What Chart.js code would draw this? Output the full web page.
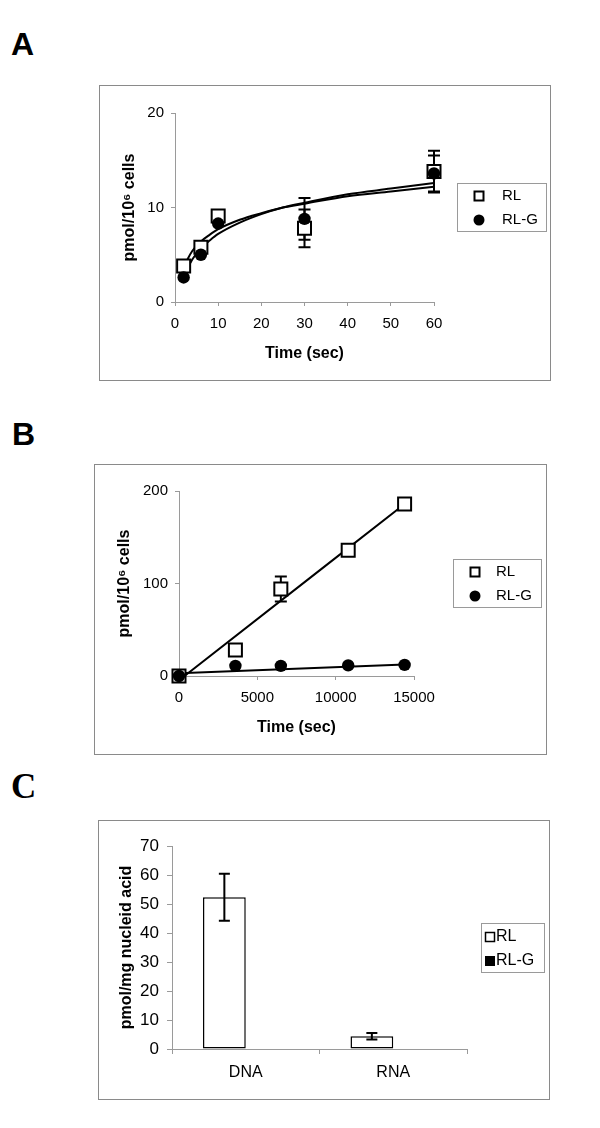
<!DOCTYPE html>
<html>
<head>
<meta charset="utf-8">
<script src="https://cdn.jsdelivr.net/npm/chart.js@4.4.0/dist/chart.umd.min.js"></script>
<style>
  body { margin: 0; background: #fff; width: 600px; height: 1128px; position: relative; }
  .tag { position: absolute; font-weight: bold; line-height: 1; color: #000; }
  .frame { position: absolute; border: 1px solid #8a8a8a; }
  canvas { display: block; }
</style>
</head>
<body>
<div class="tag" style="left:11px;top:28px;font:bold 32px 'Liberation Sans',Arial,sans-serif;line-height:1">A</div>
<div class="tag" style="left:12px;top:418px;font:bold 32px 'Liberation Sans',Arial,sans-serif;line-height:1">B</div>
<div class="tag" style="left:11px;top:769px;font:bold 35px 'Liberation Serif','Times New Roman',serif;line-height:1">C</div>

<div class="frame" style="left:99px;top:85px;"><canvas id="chartA" width="450" height="294"></canvas></div>
<div class="frame" style="left:94px;top:464px;"><canvas id="chartB" width="451" height="289"></canvas></div>
<div class="frame" style="left:98px;top:820px;"><canvas id="chartC" width="450" height="278"></canvas></div>

<script>
// ---- panel A: uptake over 60 s ----
const timeA = [2, 6, 10, 30, 60];
const rlA = [3.8, 5.8, 9.1, 7.8, 13.8];
const rlErrA = [0, 0, 0, 2.0, 2.2];
const rlgA = [2.6, 5.0, 8.3, 8.8, 13.6];
const rlgErrA = [0, 0, 0, 2.2, 1.9];
// log trendlines
const fitTimeA = [2, 3, 4, 6, 8, 10, 15, 20, 25, 30, 40, 50, 60];
const rlFitA = [3.6, 4.6, 5.4, 6.4, 7.1, 7.7, 8.7, 9.4, 10.0, 10.4, 11.2, 11.7, 12.2];
const rlgFitA = [2.4, 3.6, 4.5, 5.7, 6.5, 7.2, 8.4, 9.3, 10.0, 10.5, 11.4, 12.0, 12.6];

// ---- panel B: uptake over 4 h ----
const timeB = [0, 3600, 6500, 10800, 14400];
const rlB = [0, 28, 94, 136, 186];
const rlErrB = [0, 0, 13.5, 0, 0];
const rlgB = [0, 11, 11, 11.5, 12];
const rlFitTimeB = [350, 14400];
const rlFitB = [0, 186];
const rlgFitTimeB = [0, 14400];
const rlgFitB = [3, 12.5];

// ---- panel C: incorporation into nucleic acid ----
const nucleic = ['DNA', 'RNA'];
const rlC = [52.3, 4.4];
const rlErrC = [8.1, 1.1];
const rlgC = [0, 0];

const FONT = "'Liberation Sans', Arial, sans-serif";
const AXIS_GREY = '#9a9a9a';

const pts = (xs, ys) => xs.map((x, i) => ({ x: x, y: ys[i] }));

function drawErrors(chart, onTop) {
  const ctx = chart.ctx;
  const yScale = chart.scales.y;
  ctx.save();
  ctx.strokeStyle = '#000';
  ctx.lineWidth = 2;
  chart.data.datasets.forEach((ds, i) => {
    if (!ds.errors || !!ds.errorsOnTop !== onTop) return;
    const meta = chart.getDatasetMeta(i);
    meta.data.forEach((el, j) => {
      const e = ds.errors[j];
      if (!e) return;
      const raw = ds.data[j];
      const v = typeof raw === 'object' ? raw.y : raw;
      const top = yScale.getPixelForValue(v + e);
      const bot = yScale.getPixelForValue(v - e);
      const cap = ds.capHalf || 6;
      ctx.beginPath();
      ctx.moveTo(el.x, top); ctx.lineTo(el.x, bot);
      ctx.moveTo(el.x - cap, top); ctx.lineTo(el.x + cap, top);
      ctx.moveTo(el.x - cap, bot); ctx.lineTo(el.x + cap, bot);
      ctx.stroke();
    });
  });
  ctx.restore();
}

// vertical error bars: under the markers for scatter, over the bars for columns
const errorBars = {
  id: 'errorBars',
  beforeDatasetsDraw(chart) { drawErrors(chart, false); },
  afterDatasetsDraw(chart) { drawErrors(chart, true); }
};

// Excel-style boxed legend to the right of the plot
const boxLegend = {
  id: 'boxLegend',
  afterDraw(chart, args, opts) {
    if (!opts.box) return;
    const ctx = chart.ctx;
    const [bx, by, bw, bh] = opts.box;
    ctx.save();
    ctx.strokeStyle = AXIS_GREY;
    ctx.lineWidth = 1;
    ctx.strokeRect(bx + 0.5, by + 0.5, bw, bh);
    ctx.font = opts.font;
    ctx.textBaseline = 'middle';
    const entries = chart.data.datasets.filter(d => !d.isFit);
    entries.forEach((ds, k) => {
      const y = opts.rows[k];
      const x = opts.markerX;
      const kind = opts.markers[k];
      ctx.fillStyle = '#000';
      ctx.strokeStyle = '#000';
      if (kind === 'openSquare') {
        ctx.lineWidth = 2;
        ctx.fillStyle = '#fff';
        ctx.fillRect(x - 4.5, y - 4.5, 9, 9);
        ctx.strokeRect(x - 4.5, y - 4.5, 9, 9);
      } else if (kind === 'dot') {
        ctx.beginPath();
        ctx.arc(x, y, 5.5, 0, Math.PI * 2);
        ctx.fill();
      } else if (kind === 'fillBox') {
        ctx.fillRect(x - 5, y - 5, 10, 10);
      } else {
        ctx.lineWidth = 1.5;
        ctx.strokeRect(x - 4.5, y - 4.5, 9, 9);
      }
      ctx.fillStyle = '#000';
      ctx.fillText(ds.label, opts.textX, y);
    });
    ctx.restore();
  }
};

function axis(opts) {
  const isCat = opts.type === 'category';
  return {
    type: opts.type || 'linear',
    min: opts.min,
    max: opts.max,
    offset: opts.offset || false,
    border: { display: true, color: AXIS_GREY, width: 1 },
    grid: { display: true, drawOnChartArea: false, drawTicks: true, tickLength: opts.tl || 4, color: AXIS_GREY, offset: opts.offset || false },
    ticks: {
      stepSize: opts.step,
      padding: opts.pad,
      color: '#000',
      font: { family: FONT, size: opts.size || 15 },
      maxRotation: 0,
      autoSkip: false,
      callback: isCat ? function (v) { return this.getLabelForValue(v); } : (v) => String(v)
    },
    title: {
      display: !!opts.title,
      text: opts.title,
      color: '#000',
      font: { family: FONT, size: 16, weight: 'bold' },
      padding: opts.titlePad
    },
    afterFit: opts.fit
  };
}

function markerSet(label, xs, ys, errs, square) {
  return {
    label: label,
    data: pts(xs, ys),
    errors: errs,
    showLine: false,
    clip: false,
    pointStyle: square ? 'rect' : 'circle',
    pointRadius: square ? 9.2 : 6.2,
    pointBorderWidth: square ? 2 : 0,
    pointBorderColor: '#000',
    pointBackgroundColor: square ? '#fff' : '#000',
    order: square ? 1 : 0
  };
}

function fitSet(xs, ys) {
  return {
    label: 'fit',
    isFit: true,
    data: pts(xs, ys),
    showLine: true,
    pointRadius: 0,
    borderColor: '#000',
    borderWidth: 2,
    cubicInterpolationMode: 'monotone',
    clip: false,
    order: 5
  };
}

const common = {
  responsive: false,
  animation: false,
  events: []
};

// panel A
new Chart(document.getElementById('chartA'), {
  type: 'scatter',
  data: {
    datasets: [
      markerSet('RL', timeA, rlA, rlErrA, true),
      markerSet('RL-G', timeA, rlgA, rlgErrA, false),
      fitSet(fitTimeA, rlFitA),
      fitSet(fitTimeA, rlgFitA)
    ]
  },
  options: Object.assign({}, common, {
    layout: { padding: { top: 27, right: 116, left: 0, bottom: 0 } },
    scales: {
      x: axis({ min: 0, max: 60, step: 10, pad: 9, title: 'Time (sec)', titlePad: { top: 0, bottom: 17 }, fit: s => { s.height = 78; } }),
      y: axis({ min: 0, max: 20, step: 10, pad: 7, title: 'pmol/10\u2076 cells', titlePad: { top: 20, bottom: 0 }, fit: s => { s.width = 75; } })
    },
    plugins: {
      legend: { display: false },
      tooltip: { enabled: false },
      boxLegend: { box: [357, 97, 89, 48], rows: [110, 134], markerX: 379, textX: 402, font: '15px ' + FONT, markers: ['openSquare', 'dot'] }
    }
  }),
  plugins: [errorBars, boxLegend]
});

// panel B
new Chart(document.getElementById('chartB'), {
  type: 'scatter',
  data: {
    datasets: [
      markerSet('RL', timeB, rlB, rlErrB, true),
      markerSet('RL-G', timeB, rlgB, null, false),
      fitSet(rlFitTimeB, rlFitB),
      fitSet(rlgFitTimeB, rlgFitB)
    ]
  },
  options: Object.assign({}, common, {
    layout: { padding: { top: 26, right: 132, left: 0, bottom: 0 } },
    scales: {
      x: axis({ min: 0, max: 15000, step: 5000, pad: 9, title: 'Time (sec)', titlePad: { top: 0, bottom: 17 }, fit: s => { s.height = 78; } }),
      y: axis({ min: 0, max: 200, step: 100, pad: 7, title: 'pmol/10\u2076 cells', titlePad: { top: 20, bottom: 0 }, fit: s => { s.width = 84; } })
    },
    plugins: {
      legend: { display: false },
      tooltip: { enabled: false },
      boxLegend: { box: [358, 94, 88, 48], rows: [107, 131], markerX: 380, textX: 401, font: '15px ' + FONT, markers: ['openSquare', 'dot'] }
    }
  }),
  plugins: [errorBars, boxLegend]
});

// panel C
new Chart(document.getElementById('chartC'), {
  type: 'bar',
  data: {
    labels: nucleic,
    datasets: [
      { label: 'RL', data: rlC, errors: rlErrC, errorsOnTop: true, capHalf: 5.5, backgroundColor: '#fff', borderColor: '#000', borderWidth: 1.5, borderSkipped: false },
      { label: 'RL-G', data: rlgC, backgroundColor: '#000', borderColor: '#000', borderWidth: 0 }
    ]
  },
  options: Object.assign({}, common, {
    layout: { padding: { top: 25, right: 82, left: 0, bottom: 0 } },
    datasets: { bar: { categoryPercentage: 0.58, barPercentage: 1 } },
    scales: {
      x: axis({ type: 'category', offset: true, tl: 5, pad: 9, size: 16, fit: s => { s.height = 50; } }),
      y: axis({ min: 0, max: 70, step: 10, tl: 5, pad: 8, size: 17, title: 'pmol/mg nucleid acid', titlePad: { top: 18, bottom: 0 }, fit: s => { s.width = 73; } })
    },
    plugins: {
      legend: { display: false },
      tooltip: { enabled: false },
      boxLegend: { box: [382, 102, 63, 49], rows: [116, 140], markerX: 391, textX: 397, font: '16px ' + FONT, markers: ['openBox', 'fillBox'] }
    }
  }),
  plugins: [errorBars, boxLegend]
});
</script>
</body>
</html>
